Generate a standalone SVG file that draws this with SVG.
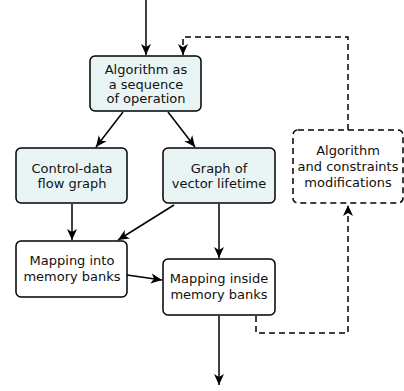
<svg xmlns="http://www.w3.org/2000/svg" width="404" height="391" viewBox="0 0 404 391">
<style>
.box{fill:#ffffff;stroke:#000;stroke-width:1.5}
.fill{fill:#e9f5f4}
.dash{stroke-dasharray:6,4}
text{font-family:"DejaVu Sans",sans-serif;font-size:13px;fill:#111;text-anchor:middle}
.ln{fill:none;stroke:#000;stroke-width:1.5}
</style>
<defs>
<marker id="ah" markerWidth="12" markerHeight="12" viewBox="0 0 12 12" refX="11" refY="6" orient="auto" markerUnits="userSpaceOnUse">
<path d="M0,1 L11,6 L0,11 L3,6 Z" fill="#000"/>
</marker>
</defs>
<g id="connectors">
<line class="ln" x1="146" y1="0" x2="146" y2="55" marker-end="url(#ah)"/>
<line class="ln" x1="123" y1="112" x2="96" y2="147" marker-end="url(#ah)"/>
<line class="ln" x1="168" y1="112" x2="195" y2="147" marker-end="url(#ah)"/>
<line class="ln" x1="72" y1="204" x2="72" y2="240" marker-end="url(#ah)"/>
<line class="ln" x1="174" y1="205" x2="118" y2="240" marker-end="url(#ah)"/>
<line class="ln" x1="219" y1="204" x2="219" y2="258" marker-end="url(#ah)"/>
<line class="ln" x1="127" y1="275" x2="162" y2="280" marker-end="url(#ah)"/>
<line class="ln" x1="219" y1="316" x2="219" y2="385" marker-end="url(#ah)"/>
<polyline class="ln dash" points="348,130 348,37 183,37 183,55" marker-end="url(#ah)"/>
<polyline class="ln dash" points="256,316 256,333 348,333 348,205" marker-end="url(#ah)"/>
</g>
<g id="n1"><rect class="box fill" x="90" y="56" width="111" height="55" rx="5"/>
<text x="146" y="74">Algorithm as</text><text x="146" y="88.5">a sequence</text><text x="146" y="103">of operation</text></g>
<g id="n2"><rect class="box fill" x="16" y="148" width="111" height="55" rx="5"/>
<text x="72" y="173">Control-data</text><text x="72" y="188">flow graph</text></g>
<g id="n3"><rect class="box fill" x="163" y="148" width="112" height="55" rx="5"/>
<text x="219" y="173">Graph of</text><text x="219" y="188">vector lifetime</text></g>
<g id="n4"><rect class="box" x="16" y="241" width="111" height="56" rx="5"/>
<text x="72" y="265">Mapping into</text><text x="72" y="281">memory banks</text></g>
<g id="n5"><rect class="box" x="163" y="259" width="112" height="56" rx="5"/>
<text x="219" y="283">Mapping inside</text><text x="219" y="299">memory banks</text></g>
<g id="n6"><rect class="box dash" x="293" y="130" width="110" height="73" rx="5"/>
<text x="348" y="155">Algorithm</text><text x="348" y="171">and constraints</text><text x="348" y="187">modifications</text></g>
</svg>
